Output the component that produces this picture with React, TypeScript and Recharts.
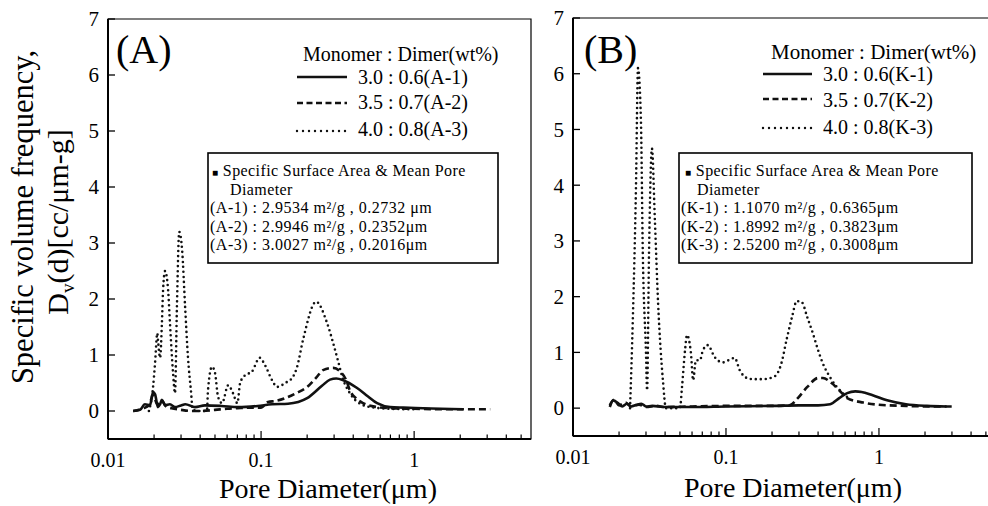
import React from "react";
import { LineChart, Line, XAxis, YAxis, ReferenceArea } from "recharts";

const SERIF = "'Liberation Serif', 'DejaVu Serif', serif";

// pore diameter (µm), Dv(d) (cc/µm-g) — panel A
const a1: number[][] = [
  [0.0146, 0], [0.0162, 0.02], [0.0174, 0.12], [0.0188, 0.1], [0.0197, 0.34], [0.0203, 0.3],
  [0.0212, 0.07], [0.0219, 0.12], [0.0225, 0.2], [0.0236, 0.1], [0.0254, 0.12], [0.0274, 0.07],
  [0.03, 0.1], [0.032, 0.12], [0.037, 0.07], [0.043, 0.1], [0.055, 0.09], [0.071, 0.07],
  [0.095, 0.09], [0.118, 0.12], [0.15, 0.13], [0.2, 0.23], [0.25, 0.45], [0.282, 0.56],
  [0.31, 0.58], [0.344, 0.55], [0.424, 0.41], [0.5, 0.26], [0.573, 0.14], [0.697, 0.07],
  [0.85, 0.06], [1.146, 0.05], [1.5, 0.04], [2.09, 0.03],
];

const a2: number[][] = [
  [0.0146, 0], [0.017, 0.05], [0.0185, 0.1], [0.0197, 0.28], [0.021, 0.12], [0.0225, 0.18],
  [0.024, 0.08], [0.026, 0.05], [0.03, 0.02], [0.035, 0], [0.04, 0], [0.05, 0.02], [0.06, 0.04],
  [0.07, 0.05], [0.085, 0.06], [0.1, 0.06], [0.111, 0.16], [0.125, 0.18], [0.144, 0.23],
  [0.17, 0.32], [0.2, 0.43], [0.23, 0.6], [0.254, 0.73], [0.296, 0.77], [0.33, 0.7],
  [0.36, 0.55], [0.38, 0.37], [0.42, 0.22], [0.464, 0.14], [0.573, 0.07], [0.7, 0.05],
  [1.0, 0.04], [1.5, 0.03], [2.2, 0.03], [3.14, 0.03],
];

const a3: number[][] = [
  [0.0185, 0], [0.0197, 0.43], [0.0203, 0.86], [0.021, 1.39], [0.0212, 1.27], [0.0219, 0.95],
  [0.0225, 1.57], [0.0229, 2.16], [0.0236, 2.5], [0.0247, 2.16], [0.0254, 1.57], [0.0266, 0.68],
  [0.0274, 0.32], [0.0282, 1.86], [0.0292, 3.2], [0.0305, 2.87], [0.0319, 1.86], [0.0333, 0.96],
  [0.0348, 0.37], [0.0358, 0.02], [0.04, 0], [0.0443, 0], [0.045, 0.37], [0.0478, 0.79],
  [0.05, 0.68], [0.0524, 0.25], [0.0556, 0.14], [0.061, 0.46], [0.0655, 0.32], [0.07, 0.14],
  [0.073, 0.5], [0.0787, 0.64], [0.087, 0.7], [0.098, 0.95], [0.106, 0.82], [0.118, 0.55],
  [0.127, 0.43], [0.148, 0.52], [0.155, 0.55], [0.172, 0.79], [0.188, 1.27], [0.229, 1.95],
  [0.27, 1.57], [0.296, 1.21], [0.32, 0.87], [0.34, 0.6], [0.38, 0.32], [0.45, 0.12],
  [0.55, 0.06], [0.7, 0.04], [1.0, 0.03],
];

// panel B
const b1: number[][] = [
  [0.0174, 0.02], [0.0183, 0.14], [0.0197, 0.09], [0.021, 0.03], [0.0225, 0.08], [0.024, 0.03],
  [0.026, 0.06], [0.028, 0.08], [0.03, 0.03], [0.033, 0.04], [0.04, 0.02], [0.06, 0.02],
  [0.1, 0.03], [0.2, 0.04], [0.3, 0.05], [0.4, 0.05], [0.48, 0.07], [0.55, 0.18], [0.62, 0.27],
  [0.7, 0.3], [0.77, 0.29], [0.91, 0.23], [1.13, 0.14], [1.5, 0.07], [2.06, 0.04], [2.77, 0.03],
];

const b2: number[][] = [
  [0.0174, 0.05], [0.0185, 0.15], [0.02, 0.05], [0.022, 0.1], [0.024, 0.03], [0.027, 0.06],
  [0.03, 0.02], [0.035, 0.04], [0.04, 0.02], [0.06, 0.03], [0.1, 0.04], [0.15, 0.04], [0.2, 0.04],
  [0.26, 0.05], [0.295, 0.18], [0.34, 0.38], [0.4, 0.54], [0.43, 0.54], [0.49, 0.45],
  [0.55, 0.32], [0.62, 0.18], [0.79, 0.1], [1.0, 0.06], [1.5, 0.04], [2.2, 0.03], [3.15, 0.03],
];

const b3: number[][] = [
  [0.0236, 0], [0.0246, 1.58], [0.0258, 3.96], [0.0266, 6.1], [0.0278, 5.16], [0.0286, 2.78],
  [0.03, 0.99], [0.0305, 0.32], [0.0314, 2.78], [0.0328, 4.66], [0.0343, 3.37], [0.036, 1.88],
  [0.0387, 0.5], [0.0405, 0], [0.05, 0], [0.0516, 0.38], [0.054, 1.04], [0.0556, 1.31],
  [0.059, 0.99], [0.061, 0.5], [0.0636, 0.86], [0.0676, 0.86], [0.0707, 1.04], [0.076, 1.13],
  [0.0846, 0.91], [0.0953, 0.82], [0.104, 0.86], [0.114, 0.9], [0.123, 0.68], [0.137, 0.54],
  [0.15, 0.52], [0.174, 0.52], [0.208, 0.57], [0.23, 0.8], [0.25, 1.25], [0.27, 1.63],
  [0.29, 1.92], [0.313, 1.9], [0.34, 1.63], [0.37, 1.34], [0.4, 1.04], [0.43, 0.8], [0.48, 0.55],
  [0.53, 0.38], [0.58, 0.27], [0.65, 0.15],
];

const yTicks = [0, 1, 2, 3, 4, 5, 6, 7];
const xTicks = [
  0.01, 0.02, 0.03, 0.04, 0.05, 0.06, 0.07, 0.08, 0.09,
  0.1, 0.2, 0.3, 0.4, 0.5, 0.6, 0.7, 0.8, 0.9,
  1, 2, 3, 4, 5,
];
const xLabels = [0.01, 0.1, 1];

const legendA = ["3.0 : 0.6(A-1)", "3.5 : 0.7(A-2)", "4.0 : 0.8(A-3)"];
const legendB = ["3.0 : 0.6(K-1)", "3.5 : 0.7(K-2)", "4.0 : 0.8(K-3)"];
const boxA = ["(A-1) : 2.9534 m²/g , 0.2732 μm", "(A-2) : 2.9946 m²/g , 0.2352μm", "(A-3) : 3.0027 m²/g , 0.2016μm"];
const boxB = ["(K-1) : 1.1070 m²/g , 0.6365μm", "(K-2) : 1.8992 m²/g , 0.3823μm", "(K-3) : 2.5200 m²/g , 0.3008μm"];

const toPts = (arr: number[][]) => arr.map(([x, y]) => ({ x, y }));

const YTick = (props: any) => {
  const { x, y, payload } = props;
  return (
    <g>
      <line x1={x} y1={y} x2={x + 7} y2={y} stroke="#000" strokeWidth={1.3} />
      <text x={x - 9} y={y} dy="0.35em" textAnchor="end" fontSize={21} fontFamily={SERIF} fill="#000">
        {payload.value}
      </text>
    </g>
  );
};

const XTick = (props: any) => {
  const { x, y, payload } = props;
  const major = xLabels.includes(payload.value);
  return (
    <g>
      <line x1={x} y1={y} x2={x} y2={y - (major ? 8 : 4.5)} stroke="#000" strokeWidth={1.2} />
      {major && (
        <text x={x} y={y + 28} textAnchor="middle" fontSize={20} fontFamily={SERIF} fill="#000">
          {payload.value}
        </text>
      )}
    </g>
  );
};

function Panel(props: {
  left: number; width: number; top: number; yAxisW: number; xAxisH: number;
  right: number; xMax: number; s1: number[][]; s2: number[][]; s3: number[][];
}) {
  const { left, width, top, yAxisW, xAxisH, right, xMax, s1, s2, s3 } = props;
  return (
    <div style={{ position: "absolute", left, top: 0 }}>
      <LineChart width={width} height={506} margin={{ top, right, bottom: 0, left: 0 }}>
        <XAxis
          dataKey="x" type="number" scale="log" domain={[0.01, xMax]} allowDataOverflow
          ticks={xTicks} interval={0} tick={<XTick />} tickSize={0} tickMargin={0}
          tickLine={false} height={xAxisH} axisLine={{ stroke: "#000", strokeWidth: 2 }}
        />
        <YAxis
          type="number" domain={[-0.5, 7]} allowDataOverflow ticks={yTicks} interval={0}
          tick={<YTick />} tickSize={0} tickMargin={0} tickLine={false} width={yAxisW}
          axisLine={{ stroke: "#000", strokeWidth: 2 }}
        />
        <ReferenceArea x1={0.01} x2={xMax} y1={-0.5} y2={7} fill="none" stroke="#000" strokeWidth={1.2} ifOverflow="visible" />
        <Line data={toPts(s1)} dataKey="y" type="monotone" stroke="#111" strokeWidth={2.6} dot={false} isAnimationActive={false} />
        <Line data={toPts(s2)} dataKey="y" type="monotone" stroke="#111" strokeWidth={2.6} strokeDasharray="7 4" dot={false} isAnimationActive={false} />
        <Line data={toPts(s3)} dataKey="y" type="monotone" stroke="#111" strokeWidth={2.6} strokeDasharray="0 5" strokeLinecap="round" dot={false} isAnimationActive={false} />
      </LineChart>
    </div>
  );
}

function Legend(props: { x0: number; x1: number; tx: number; titleX: number; titleY: number; titleSize: number; ys: number[]; bases: number[]; labels: string[] }) {
  const { x0, x1, tx, titleX, titleY, titleSize, ys, bases, labels } = props;
  const dashes = [undefined, "6 3.5", "0 6"];
  return (
    <g>
      <text x={titleX} y={titleY} fontSize={titleSize}>Monomer : Dimer(wt%)</text>
      {labels.map((l, i) => (
        <g key={l}>
          <line x1={x0} y1={ys[i]} x2={x1} y2={ys[i]} stroke="#111" strokeWidth={2.4} strokeDasharray={dashes[i]} strokeLinecap={i === 2 ? "round" : "butt"} />
          <text x={tx} y={bases[i]} fontSize={20}>{l}</text>
        </g>
      ))}
    </g>
  );
}

function InfoBox(props: { x: number; w: number; bx: number; dx: number; lx: number; rows: string[] }) {
  const { x, w, bx, dx, lx, rows } = props;
  return (
    <g>
      <rect x={x} y={153} width={w} height={110} fill="#fff" stroke="#000" strokeWidth={1.6} />
      <text x={bx} y={176} fontSize={16} letterSpacing={0.4}><tspan fontSize={10}>■</tspan> Specific Surface Area &amp; Mean Pore</text>
      <text x={dx} y={194.5} fontSize={16} letterSpacing={0.4}>Diameter</text>
      {rows.map((r, i) => (
        <text key={r} x={lx} y={213 + i * 18.5} fontSize={16} letterSpacing={0.5}>{r}</text>
      ))}
    </g>
  );
}

export default function App() {
  return (
    <div style={{ position: "fixed", left: 0, top: 0, width: 988, height: 506, overflow: "hidden", background: "#fff", fontFamily: SERIF }}>
      <Panel left={0} width={540} top={19} yAxisW={108} xAxisH={67} right={9} xMax={5.8} s1={a1} s2={a2} s3={a3} />
      <Panel left={480} width={520} top={18} yAxisW={93} xAxisH={70} right={2} xMax={6} s1={b1} s2={b2} s3={b3} />
      <svg width={988} height={506} style={{ position: "absolute", left: 0, top: 0, pointerEvents: "none" }} fontFamily={SERIF} fill="#000">
        <text transform="translate(33,217) rotate(-90)" textAnchor="middle" fontSize={30.5}>Specific volume frequency,</text>
        <text transform="translate(68,222) rotate(-90)" textAnchor="middle" fontSize={30}>
          D<tspan fontSize={19} dy={6}>v</tspan><tspan dy={-6}>(d)[cc/μm-g]</tspan>
        </text>
        <text x={328} y={498} textAnchor="middle" fontSize={28}>Pore Diameter(μm)</text>
        <text x={793} y={497} textAnchor="middle" fontSize={28}>Pore Diameter(μm)</text>

        <text x={116} y={63} fontSize={40}>(A)</text>
        <text x={584} y={63} fontSize={40}>(B)</text>

        <Legend x0={297} x1={347} tx={358} titleX={303} titleY={61} titleSize={20} ys={[77, 103, 131]} bases={[84, 109, 136]} labels={legendA} />
        <Legend x0={763} x1={812} tx={823} titleX={771} titleY={59} titleSize={21} ys={[74, 99, 128]} bases={[81, 107, 134]} labels={legendB} />

        <InfoBox x={208} w={290} bx={212} dx={230} lx={210} rows={boxA} />
        <InfoBox x={679} w={293} bx={685} dx={697} lx={681} rows={boxB} />
      </svg>
    </div>
  );
}
